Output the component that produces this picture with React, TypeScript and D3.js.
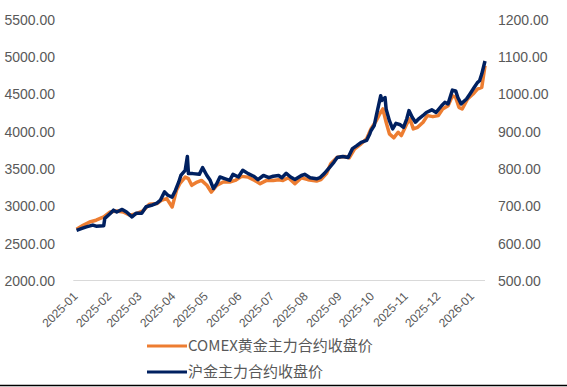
import React from 'react';
import * as d3 from 'd3';

// COMEX gold main contract close (left axis, USD/oz)
const comexDates = [
  '2025-01-02','2025-01-08','2025-01-14','2025-01-20','2025-01-27','2025-02-02','2025-02-08','2025-02-14',
  '2025-02-20','2025-02-26','2025-03-04','2025-03-10','2025-03-17','2025-03-21','2025-03-26','2025-03-31',
  '2025-04-04','2025-04-07','2025-04-12','2025-04-15','2025-04-18','2025-04-23','2025-04-27','2025-05-02',
  '2025-05-06','2025-05-11','2025-05-17','2025-05-23','2025-05-28','2025-06-03','2025-06-09','2025-06-15',
  '2025-06-20','2025-06-26','2025-07-02','2025-07-07','2025-07-11','2025-07-16','2025-07-22','2025-07-28',
  '2025-08-03','2025-08-11','2025-08-15','2025-08-20','2025-08-24','2025-08-30','2025-09-06','2025-09-10',
  '2025-09-15','2025-09-21','2025-09-26','2025-09-30','2025-10-05','2025-10-08','2025-10-11','2025-10-14',
  '2025-10-17','2025-10-21','2025-10-25','2025-10-28','2025-11-02','2025-11-05','2025-11-08','2025-11-12',
  '2025-11-17','2025-11-21','2025-11-26','2025-12-01','2025-12-05','2025-12-10','2025-12-14','2025-12-17',
  '2025-12-20','2025-12-23','2025-12-28','2026-01-02','2026-01-06','2026-01-10','2026-01-13'
];
const comexValues = [
  2695, 2748, 2792, 2815, 2859, 2926, 2939, 2926,
  2882, 2904, 2939, 3029, 3038, 3082, 3105, 2993,
  3216, 3305, 3393, 3372, 3283, 3327, 3349, 3283,
  3193, 3283, 3327, 3327, 3349, 3403, 3393, 3349,
  3305, 3349, 3349, 3359, 3349, 3385, 3305, 3385,
  3359, 3340, 3359, 3439, 3572, 3661, 3670, 3653,
  3773, 3840, 3906, 4040, 4151, 4240, 4307, 4128,
  3973, 3920, 3995, 3950, 4107, 4174, 4040, 4061,
  4128, 4218, 4204, 4218, 4307, 4351, 4485, 4462,
  4329, 4307, 4441, 4507, 4574, 4596, 4886
];

// SHFE gold main contract close (right axis, CNY/g)
const shfeDates = [
  '2025-01-02','2025-01-07','2025-01-11','2025-01-17','2025-01-20','2025-01-27','2025-01-28','2025-02-02',
  '2025-02-05','2025-02-08','2025-02-13','2025-02-17','2025-02-22','2025-02-26','2025-03-03','2025-03-07',
  '2025-03-12','2025-03-17','2025-03-20','2025-03-24','2025-03-27','2025-03-31','2025-04-03','2025-04-06',
  '2025-04-08','2025-04-12','2025-04-14','2025-04-15','2025-04-19','2025-04-25','2025-04-28','2025-05-02',
  '2025-05-05','2025-05-08','2025-05-11','2025-05-14','2025-05-19','2025-05-23','2025-05-26','2025-05-31',
  '2025-06-04','2025-06-09','2025-06-14','2025-06-18','2025-06-23','2025-06-28','2025-07-02','2025-07-07',
  '2025-07-10','2025-07-14','2025-07-18','2025-07-22','2025-07-28','2025-07-31','2025-08-05','2025-08-11',
  '2025-08-14','2025-08-18','2025-08-23','2025-08-27','2025-08-30','2025-09-04','2025-09-09','2025-09-13',
  '2025-09-17','2025-09-21','2025-09-26','2025-09-29','2025-09-30','2025-10-03','2025-10-05','2025-10-09',
  '2025-10-10','2025-10-13','2025-10-14','2025-10-17','2025-10-20','2025-10-23','2025-10-27','2025-10-30',
  '2025-11-02','2025-11-04','2025-11-07','2025-11-10','2025-11-13','2025-11-17','2025-11-20','2025-11-25',
  '2025-11-29','2025-12-04','2025-12-07','2025-12-10','2025-12-14','2025-12-17','2025-12-19','2025-12-22',
  '2025-12-27','2025-12-30','2026-01-03','2026-01-06','2026-01-08','2026-01-10','2026-01-13'
];
const shfeValues = [
  636, 641, 645, 650, 647, 648, 668, 681,
  690, 685, 692, 685, 672, 682, 682, 699,
  703, 709, 716, 739, 730, 725, 743, 765,
  783, 797, 834, 788, 788, 786, 804, 783,
  770, 748, 761, 779, 774, 770, 786, 779,
  797, 788, 781, 772, 783, 777, 781, 783,
  777, 789, 779, 772, 783, 786, 777, 774,
  777, 788, 805, 819, 831, 834, 831, 855,
  863, 872, 877, 895, 903, 917, 944, 997,
  984, 992, 961, 930, 908, 923, 919, 912,
  935, 957, 939, 926, 935, 944, 952, 959,
  952, 970, 979, 975, 1012, 1010, 992, 975,
  988, 1001, 1019, 1032, 1037, 1055, 1090
];

const leftTicks = [2000, 2500, 3000, 3500, 4000, 4500, 5000, 5500];
const rightTicks = [500, 600, 700, 800, 900, 1000, 1100, 1200];
const monthLabels = ['2025-01','2025-02','2025-03','2025-04','2025-05','2025-06','2025-07',
  '2025-08','2025-09','2025-10','2025-11','2025-12','2026-01'];
const seriesNames = ['COMEX黄金主力合约收盘价', '沪金主力合约收盘价'];

const ORANGE = '#ED7D31';
const NAVY = '#002060';
const GRAY = '#595959';
const NUM_FONT = '"Liberation Sans", Arial, sans-serif';
const CJK_FONT = '"Noto Sans CJK SC", "Noto Sans", sans-serif';

export default function App() {
  const W = 567, H = 387;
  const parse = d3.timeParse('%Y-%m-%d');
  const parseMonth = d3.timeParse('%Y-%m');
  const x = d3.scaleTime()
    .domain([parse('2024-12-30') as Date, parse('2026-01-13') as Date])
    .range([73.3, 485]);
  const yL = d3.scaleLinear().domain([2000, 5500]).range([281, 20]);
  const yR = d3.scaleLinear().domain([500, 1200]).range([281, 20]);

  const comex = comexDates.map((d, i) => ({ d: parse(d) as Date, v: comexValues[i] }));
  const shfe = shfeDates.map((d, i) => ({ d: parse(d) as Date, v: shfeValues[i] }));

  const lineL = d3.line<{ d: Date; v: number }>().x(p => x(p.d)).y(p => yL(p.v));
  const lineR = d3.line<{ d: Date; v: number }>().x(p => x(p.d)).y(p => yR(p.v));

  const fmt = d3.format('.2f');

  return (
    <svg width={W} height={H} style={{ position: 'absolute', left: 0, top: 0, background: '#fff' }}>
      <rect x={0} y={0} width={W} height={H} fill="#fff" />
      {leftTicks.map(t => (
        <text key={'l' + t} x={55} y={yL(t)} dy="0.35em" textAnchor="end"
          fontFamily={NUM_FONT} fontSize={14} fill={GRAY}>{fmt(t)}</text>
      ))}
      {rightTicks.map(t => (
        <text key={'r' + t} x={498} y={yR(t)} dy="0.35em" textAnchor="start"
          fontFamily={NUM_FONT} fontSize={14} fill={GRAY}>{fmt(t)}</text>
      ))}
      <line x1={x.range()[0]} x2={x.range()[1]} y1={280.5} y2={280.5} stroke="#D9D9D9" strokeWidth={1} />
      {monthLabels.map(m => {
        const px = x(parseMonth(m) as Date);
        return (
          <text key={m} transform={`translate(${px},${294}) rotate(-45)`} dy="0.35em"
            textAnchor="end" fontFamily={NUM_FONT} fontSize={12} fill={GRAY}>{m}</text>
        );
      })}
      <path d={lineL(comex) || ''} fill="none" stroke={ORANGE} strokeWidth={3.5} strokeLinejoin="round" />
      <path d={lineR(shfe) || ''} fill="none" stroke={NAVY} strokeWidth={3.5} strokeLinejoin="round" />
      <line x1={147} x2={187} y1={346} y2={346} stroke={ORANGE} strokeWidth={3} />
      <text x={188} y={346} dy="0.35em" fontFamily={CJK_FONT} fontSize={15} fill={GRAY}>{seriesNames[0]}</text>
      <line x1={147} x2={187} y1={372} y2={372} stroke={NAVY} strokeWidth={3} />
      <text x={188} y={372} dy="0.35em" fontFamily={CJK_FONT} fontSize={15} fill={GRAY}>{seriesNames[1]}</text>
      <line x1={0} x2={W} y1={385.5} y2={385.5} stroke="#000" strokeWidth={1.5} />
    </svg>
  );
}
